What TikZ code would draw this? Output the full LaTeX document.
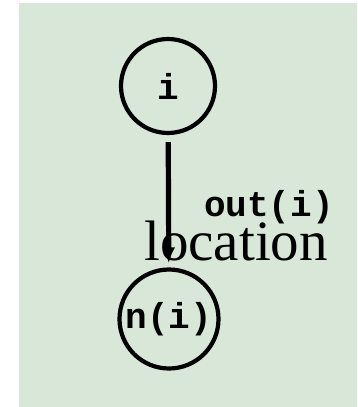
\documentclass[tikz,border=0pt]{standalone}
\usepackage{fontspec}
\setmainfont{Liberation Serif}
\setmonofont{Liberation Mono}
\usetikzlibrary{arrows.meta,positioning}
\definecolor{bggreen}{RGB}{217,231,216}

\begin{document}
\begin{tikzpicture}[
          x=1pt, y=-1pt,
          state/.style={circle, draw=black, line width=4.2pt, inner sep=0pt,
              font=\fontsize{36}{38}\selectfont\ttfamily\bfseries},
          arr/.style={-{Latex[length=16pt,width=13pt]}, line width=5.2pt,
              shorten <=7pt, shorten >=4pt},
          lbl/.style={inner sep=0pt, anchor=base}
      ]
      \useasboundingbox (0,0) rectangle (357,407);
      \fill[bggreen] (19,3) rectangle (357,407);
      \node[state, minimum size=94pt] (i)  at (168,86)  {i};
      \node[state, minimum size=99pt] (ni) at (169,319) {n(i)};
      \draw[arr] (i) -- (ni);
      \node[lbl, font=\fontsize{36}{38}\selectfont\ttfamily\bfseries]
          (out) at (269,216) {out(i)};
      \node[lbl, font=\fontsize{57}{60}\selectfont] (loc) at (236,260) {location};
      \end{tikzpicture}
\end{document}
